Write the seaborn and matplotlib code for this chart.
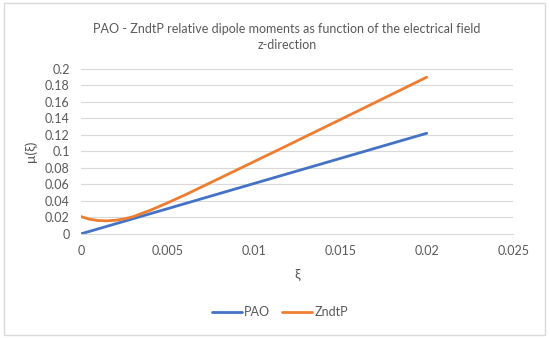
import numpy as np
import pandas as pd
import seaborn as sns
import matplotlib
matplotlib.use("Agg")
import matplotlib.pyplot as plt
from matplotlib.patches import Rectangle

# data
xi = [0, 0.0005, 0.001, 0.0015, 0.002, 0.0025, 0.003, 0.004, 0.005, 0.006,
      0.008, 0.01, 0.012, 0.014, 0.016, 0.018, 0.02]
pao = [0, 0.00305, 0.0061, 0.00915, 0.0122, 0.01525, 0.0183, 0.0244, 0.0305, 0.0366,
       0.0488, 0.061, 0.0732, 0.0854, 0.0976, 0.1098, 0.122]
zndtp = [0.021, 0.0178, 0.0162, 0.0158, 0.0165, 0.0182, 0.0207, 0.0285, 0.0375, 0.047,
         0.0672, 0.0875, 0.1078, 0.1283, 0.1488, 0.1694, 0.19]

df = pd.DataFrame({"xi": xi + xi,
                   "mu": pao + zndtp,
                   "series": ["PAO"] * len(xi) + ["ZndtP"] * len(xi)})

sns.set_style("white")
plt.rcParams['font.family'] = ['Lato', 'DejaVu Sans']
grey = "#595959"

fig = plt.figure(figsize=(5.5, 3.38), dpi=100)
ax = fig.add_axes([0.147, 0.308, 0.786, 0.488])

sns.lineplot(data=df, x="xi", y="mu", hue="series",
             palette={"PAO": "#4472C4", "ZndtP": "#ED7D31"},
             linewidth=2, ax=ax, legend=False)

ax.set_xlim(0, 0.025)
ax.set_ylim(0, 0.2)
ax.set_xticks(np.arange(0, 0.0251, 0.005))
ax.set_xticklabels(["0", "0.005", "0.01", "0.015", "0.02", "0.025"])
ax.set_yticks(np.arange(0, 0.201, 0.02))
ax.set_yticklabels(["0", "0.02", "0.04", "0.06", "0.08", "0.1", "0.12",
                    "0.14", "0.16", "0.18", "0.2"])
ax.tick_params(axis="both", length=0, labelsize=9, labelcolor=grey, pad=8)
ax.yaxis.grid(True, color="#d9d9d9", linewidth=0.8)
ax.set_axisbelow(True)
for s in ["top", "right", "left"]:
    ax.spines[s].set_visible(False)
ax.spines["bottom"].set_color("#d9d9d9")

ax.set_xlabel("ξ", color=grey, fontsize=10, labelpad=8)
ax.set_ylabel("μ(ξ)", color=grey, fontsize=10, labelpad=6)

fig.text(0.522, 0.89, "PAO - ZndtP relative dipole moments as function of the electrical field\nz-direction",
         ha="center", va="center", fontsize=9, color=grey, linespacing=1.45)

# legend
handles = [plt.Line2D([], [], color="#4472C4", lw=2),
           plt.Line2D([], [], color="#ED7D31", lw=2)]
fig.legend(handles, ["PAO", "ZndtP"], loc="center", bbox_to_anchor=(0.509, 0.077),
           ncol=2, frameon=False, fontsize=9, labelcolor=grey,
           handlelength=2.4, handletextpad=0.15, columnspacing=1.0)

# outer chart border
fig.patches.append(Rectangle((0.007, 0.009), 0.984, 0.982, transform=fig.transFigure,
                             fill=False, edgecolor="#d9d9d9", linewidth=1))

fig.savefig("out.png", dpi=100)
